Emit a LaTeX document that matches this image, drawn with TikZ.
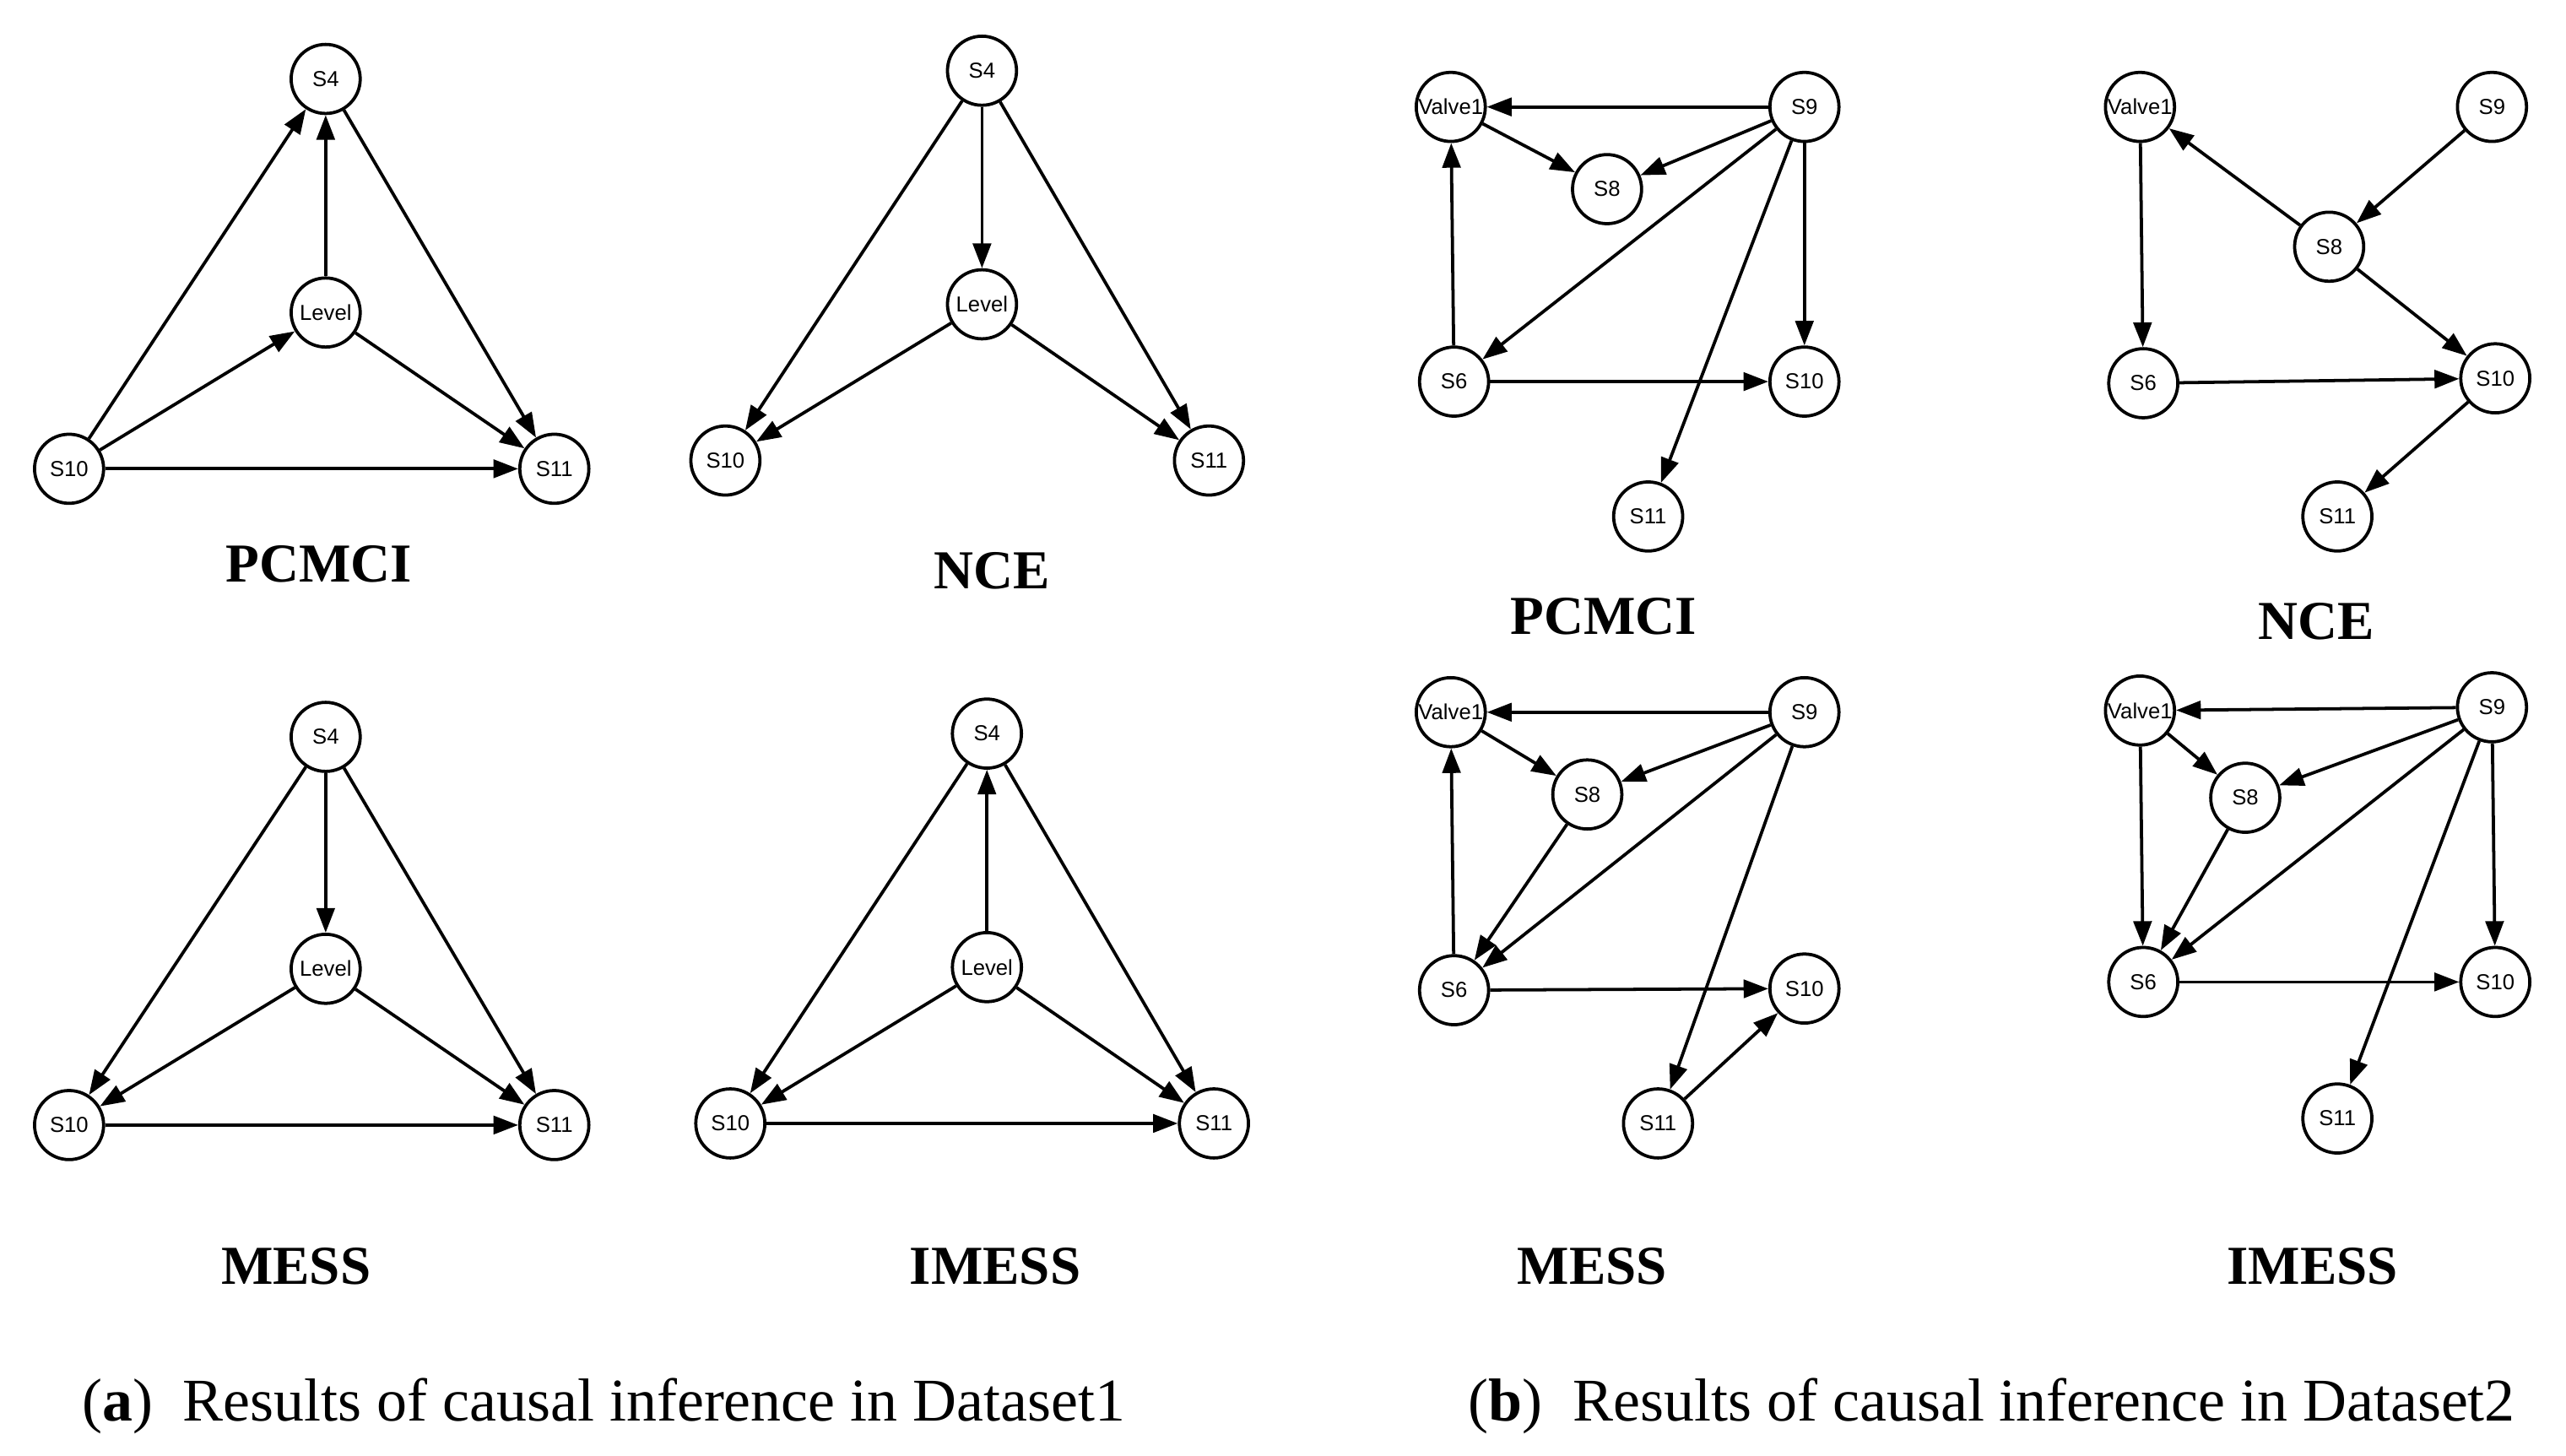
\documentclass[tikz,border=0pt]{standalone}
\usepackage{fontspec}
\setmainfont{Liberation Serif}
\newfontfamily\nodefont{Liberation Sans}
\usetikzlibrary{arrows.meta}
\begin{document}
\begin{tikzpicture}[x=0.02cm,y=-0.02cm,
  v/.style={circle,draw,line width=1.1pt,minimum size=0.84cm,inner sep=0pt,font=\nodefont\fontsize{7.5}{9}\selectfont},
  e/.style={line width=1.1pt,-{Triangle[length=0.3cm,width=0.22cm]}},
  ttl/.style={font=\bfseries\fontsize{19}{21}\selectfont},
  captxt/.style={font=\fontsize{21}{23}\selectfont,anchor=base}]
\useasboundingbox (0,0) rectangle (1560,884.7);
% ---- Dataset1 PCMCI
\node[v] (a4) at (198,48) {S4};
\node[v] (aL) at (198,190) {Level};
\node[v] (a10) at (42,285) {S10};
\node[v] (a11) at (337,285) {S11};
\draw[e] (a10)--(a4); \draw[e] (a10)--(aL); \draw[e] (aL)--(a4);
\draw[e] (a10)--(a11); \draw[e] (aL)--(a11); \draw[e] (a4)--(a11);
\node[ttl] (t1) at (194,343) {PCMCI};
% ---- NCE
\node[v] (b4) at (597,43) {S4};
\node[v] (bL) at (597,185) {Level};
\node[v] (b10) at (441,280) {S10};
\node[v] (b11) at (735,280) {S11};
\draw[e] (b4)--(b10); \draw[e] (b4)--(bL); \draw[e] (b4)--(b11);
\draw[e] (bL)--(b10); \draw[e] (bL)--(b11);
\node[ttl] (t2) at (603,347) {NCE};
% ---- MESS
\node[v] (c4) at (198,448) {S4};
\node[v] (cL) at (198,589) {Level};
\node[v] (c10) at (42,684) {S10};
\node[v] (c11) at (337,684) {S11};
\draw[e] (c4)--(c10); \draw[e] (c4)--(cL); \draw[e] (c4)--(c11);
\draw[e] (cL)--(c10); \draw[e] (cL)--(c11); \draw[e] (c10)--(c11);
\node[ttl] (t3) at (180,770) {MESS};
% ---- IMESS
\node[v] (d4) at (600,446) {S4};
\node[v] (dL) at (600,588) {Level};
\node[v] (d10) at (444,683) {S10};
\node[v] (d11) at (738,683) {S11};
\draw[e] (d4)--(d10); \draw[e] (dL)--(d4); \draw[e] (d4)--(d11);
\draw[e] (dL)--(d10); \draw[e] (dL)--(d11); \draw[e] (d10)--(d11);
\node[ttl] (t4) at (605,770) {IMESS};
% ---- Dataset2 PCMCI
\node[v] (eV) at (882,65) {Valve1};
\node[v] (e9) at (1097,65) {S9};
\node[v] (e8) at (977,115) {S8};
\node[v] (e6) at (884,232) {S6};
\node[v] (e10) at (1097,232) {S10};
\node[v] (e11) at (1002,314) {S11};
\draw[e] (e9)--(eV); \draw[e] (eV)--(e8); \draw[e] (e9)--(e8); \draw[e] (e9)--(e6);
\draw[e] (e9)--(e10); \draw[e] (e9)--(e11); \draw[e] (e6)--(eV); \draw[e] (e6)--(e10);
\node[ttl] (t5) at (975,375) {PCMCI};
% ---- NCE
\node[v] (fV) at (1301,65) {Valve1};
\node[v] (f9) at (1515,65) {S9};
\node[v] (f8) at (1416,150) {S8};
\node[v] (f6) at (1303,233) {S6};
\node[v] (f10) at (1517,230) {S10};
\node[v] (f11) at (1421,314) {S11};
\draw[e] (f9)--(f8); \draw[e] (f8)--(fV); \draw[e] (fV)--(f6); \draw[e] (f8)--(f10);
\draw[e] (f6)--(f10); \draw[e] (f10)--(f11);
\node[ttl] (t6) at (1408,378) {NCE};
% ---- MESS
\node[v] (gV) at (882,433) {Valve1};
\node[v] (g9) at (1097,433) {S9};
\node[v] (g8) at (965,483) {S8};
\node[v] (g6) at (884,602) {S6};
\node[v] (g10) at (1097,601) {S10};
\node[v] (g11) at (1008,683) {S11};
\draw[e] (g9)--(gV); \draw[e] (gV)--(g8); \draw[e] (g9)--(g8); \draw[e] (g9)--(g6);
\draw[e] (g8)--(g6); \draw[e] (g6)--(gV); \draw[e] (g6)--(g10); \draw[e] (g9)--(g11);
\draw[e] (g11)--(g10);
\node[ttl] (t7) at (968,770) {MESS};
% ---- IMESS
\node[v] (hV) at (1301,432) {Valve1};
\node[v] (h9) at (1515,430) {S9};
\node[v] (h8) at (1365,485) {S8};
\node[v] (h6) at (1303,597) {S6};
\node[v] (h10) at (1517,597) {S10};
\node[v] (h11) at (1421,680) {S11};
\draw[e] (h9)--(hV); \draw[e] (hV)--(h8); \draw[e] (h9)--(h8); \draw[e] (hV)--(h6);
\draw[e] (h8)--(h6); \draw[e] (h9)--(h6); \draw[e] (h9)--(h10); \draw[e] (h9)--(h11);
\draw[e] (h6)--(h10);
\node[ttl] (t8) at (1406,770) {IMESS};
% ---- captions
\node[captxt] (ca) at (367,864) {(\textbf{a})\ \ Results of causal inference in Dataset1};
\node[captxt] (cb) at (1211,864) {(\textbf{b})\ \ Results of causal inference in Dataset2};
\end{tikzpicture}
\end{document}
